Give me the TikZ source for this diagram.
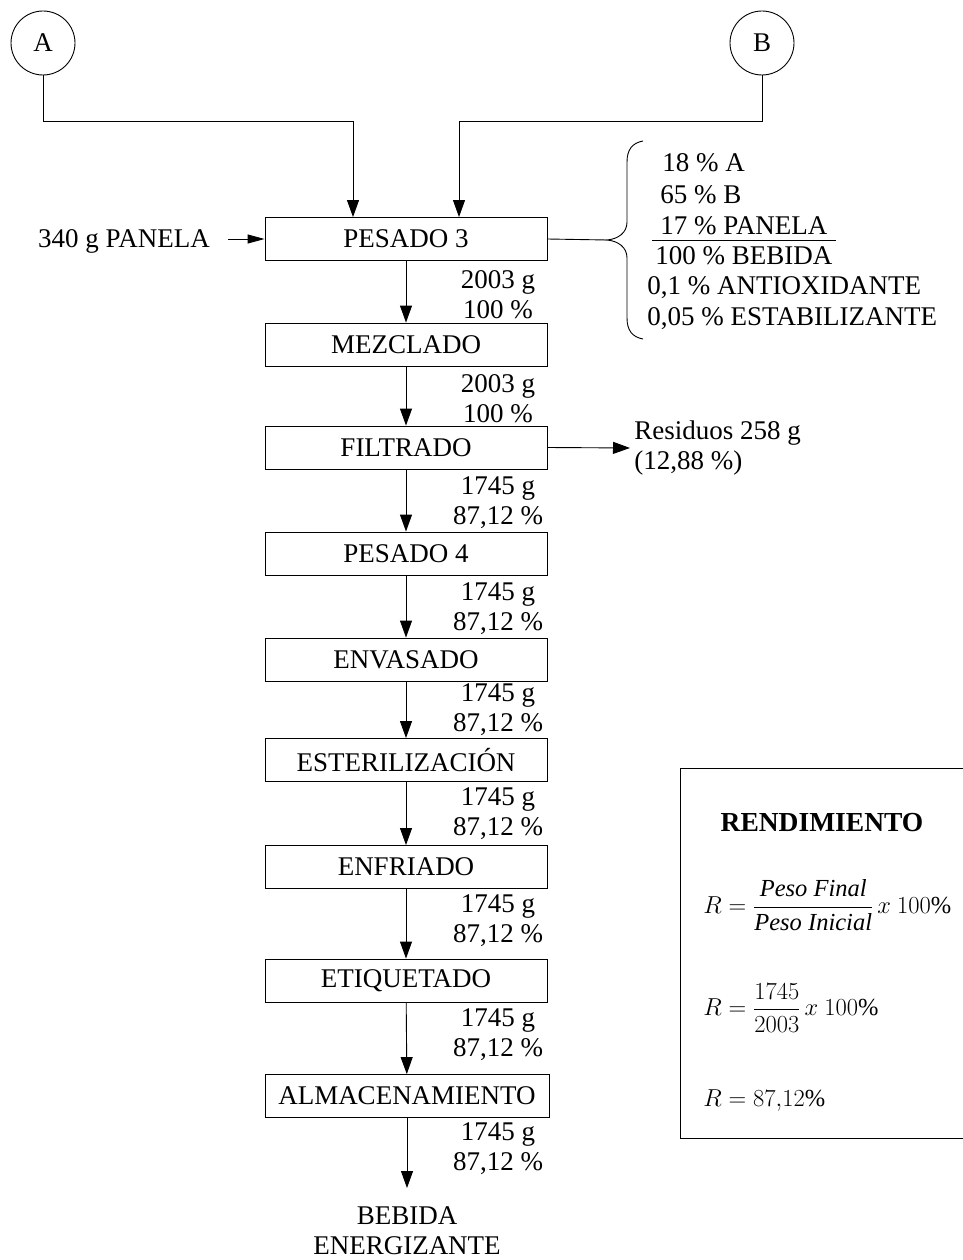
\RequirePackage{fix-cm}
\documentclass[tikz,border=0pt]{standalone}
\usepackage{amsmath}
\usepackage{fontspec}
\setmainfont{Liberation Serif}
\usetikzlibrary{arrows.meta}
\begin{document}
\begin{tikzpicture}[x=1pt,y=-1pt,
  line width=0.9pt,
  every node/.style={font=\fontsize{27}{30}\selectfont, inner sep=0pt},
  procbox/.style={draw, minimum width=282pt, minimum height=43pt},
  conn/.style={circle, draw, minimum size=64pt},
  flowlbl/.style={align=center},
  arr/.style={-{Triangle[length=17pt,width=12pt]}},
  smallarr/.style={-{Triangle[length=17pt,width=9pt]}},
  formula/.style={anchor=west, font=\fontsize{24.5}{28}\selectfont}]
\useasboundingbox (0,0) rectangle (963,1260);

% connectors from the previous sheets
\node[conn] (A) at (43,43) {A};
\node[conn] (B) at (762,43) {B};

% process steps
\node[procbox] (p3)  at (406,239)    {PESADO 3};
\node[procbox] (mez) at (406,344.5)  {MEZCLADO};
\node[procbox] (fil) at (406,447.5)  {FILTRADO};
\node[procbox] (p4)  at (406,553.5)  {PESADO 4};
\node[procbox] (env) at (406,659.5)  {ENVASADO};
\node[procbox] (est) at (406,760)    {ESTERILIZACIÓN};
\node[procbox] (enf) at (406,867)    {ENFRIADO};
\node[procbox] (eti) at (406,980.5)  {ETIQUETADO};
\node[procbox, minimum width=284pt] (alm) at (407,1096) {ALMACENAMIENTO};

% inputs to PESADO 3
\coordinate (ain) at (353,121);
\coordinate (bin) at (459,121);
\draw[arr] (A.south) |- (ain) -- (ain |- p3.north);
\draw[arr] (B.south) |- (bin) -- (bin |- p3.north);
\node (panela) at (124,241) {340 g PANELA};
\draw[smallarr] ([xshift=18pt]panela.east |- p3.west) -- (p3.west);

% formulation brace
\coordinate (brtip) at (607,240);
\draw (p3.east) -- (brtip);
\draw (643,141) .. controls (632,143) and (627,150) .. (627,162)
      -- (627,222) .. controls (627,233) and (618,239) .. (brtip)
      .. controls (618,241) and (627,247) .. (627,258)
      -- (627,318) .. controls (627,330) and (632,337) .. (643,339);
\node[anchor=base west] (f1) at (662,172) {18 \% A};
\node[anchor=base west] (f2) at (660,204) {65 \% B};
\node[anchor=base west] (f3) at (660,234) {17 \% PANELA};
\draw (652,240) -- (836,240);
\node[anchor=base west] (f4) at (655,264) {100 \% BEBIDA};
\node[anchor=base west] (f5) at (647,294) {0,1 \% ANTIOXIDANTE};
\node[anchor=base west] (f6) at (647,325) {0,05 \% ESTABILIZANTE};

% main flow
\draw[arr] (p3) -- (mez);
\draw[arr] (mez) -- (fil);
\draw[arr] (fil) -- (p4);
\draw[arr] (p4) -- (env);
\draw[arr] (env) -- (est);
\draw[arr] (est) -- (enf);
\draw[arr] (enf) -- (eti);
\draw[arr] (eti) -- (alm);
\coordinate (endp) at (407,1188);
\draw[arr] (alm.south) -- (endp);
\node[flowlbl] (prod) at (407,1231) {BEBIDA\\ENERGIZANTE};

% mass balance labels
\node[flowlbl] (m1) at (498,295)  {2003 g\\100 \%};
\node[flowlbl] (m2) at (498,399)  {2003 g\\100 \%};
\node[flowlbl] (m3) at (498,503)  {1745 g\\87,12 \%};
\node[flowlbl] (m4) at (498,609)  {1745 g\\87,12 \%};
\node[flowlbl] (m5) at (498,710)  {1745 g\\87,12 \%};
\node[flowlbl] (m6) at (498,814)  {1745 g\\87,12 \%};
\node[flowlbl] (m7) at (498,921)  {1745 g\\87,12 \%};
\node[flowlbl] (m8) at (498,1035) {1745 g\\87,12 \%};
\node[flowlbl] (m9) at (498,1149) {1745 g\\87,12 \%};

% waste stream
\node[anchor=west, align=left] (res) at (634,448) {Residuos 258 g\\(12,88 \%)};
\draw[arr, shorten >=4pt] (fil.east) -- (res.west);

% yield box
\draw (963,768) -- (680,768) -- (680,1138) -- (963,1138);
\node[font=\fontsize{27.5}{30}\selectfont\bfseries] (rt) at (822,823) {RENDIMIENTO};
\node[formula] (r1) at (703,905)
  {$R=\dfrac{\mathit{Peso\ Final}}{\mathit{Peso\ Inicial}}\,x\ 100\%$};
\node[formula] (r2) at (703,1008)
  {$R=\dfrac{1745}{2003}\,x\ 100\%$};
\node[formula] (r3) at (703,1100)
  {$R=87{,}12\%$};
\end{tikzpicture}
\end{document}
